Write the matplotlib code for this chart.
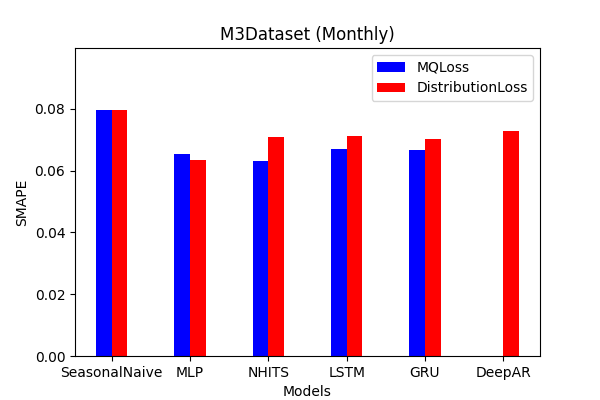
import numpy as np
import matplotlib.pyplot as plt

models = ['SeasonalNaive', 'MLP', 'NHITS', 'LSTM', 'GRU', 'DeepAR']
mqloss = [0.0798, 0.0655, 0.0630, 0.0672, 0.0668, np.nan]
distloss = [0.0798, 0.0635, 0.0710, 0.0712, 0.0703, 0.0730]

x = np.arange(len(models))
w = 0.2
fig, ax = plt.subplots(figsize=(6, 4), dpi=100)
ax.bar(x - w/2, mqloss, w, color='blue', label='MQLoss')
ax.bar(x + w/2, distloss, w, color='red', label='DistributionLoss')
ax.set_xticks(x)
ax.set_xticklabels(models)
ax.set_ylim(0, np.nanmax(distloss) * 1.25)
ax.set_yticks([0, 0.02, 0.04, 0.06, 0.08])
ax.set_xlabel('Models')
ax.set_ylabel('SMAPE')
ax.set_title('M3Dataset (Monthly)')
ax.legend(loc='upper right')
fig.savefig('out.png')
